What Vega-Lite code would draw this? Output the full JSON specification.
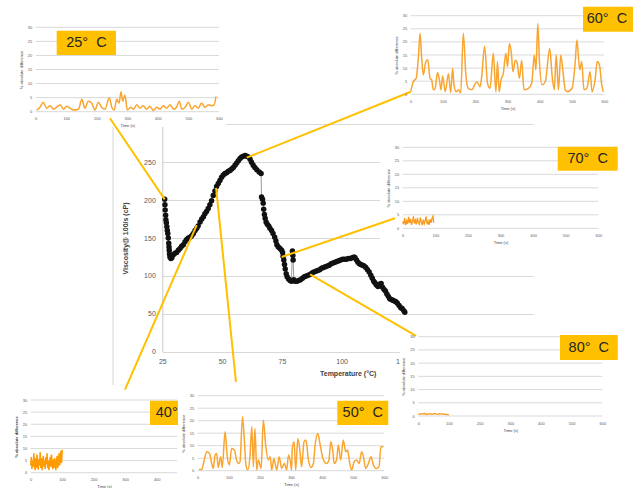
{
  "$schema": "https://vega.github.io/schema/vega-lite/v6.json",
  "width": 633,
  "height": 488,
  "autosize": "none",
  "padding": 0,
  "background": "white",
  "config": {"view": {"stroke": null}, "font": "Liberation Sans"},
  "datasets": {
    "one": [{}],
    "grid": [{"g":0},{"g":5},{"g":10},{"g":15},{"g":20},{"g":25},{"g":30}],
    "main": [
      {"T":26.0,"V":201},{"T":26.1,"V":194},{"T":26.2,"V":187},{"T":26.4,"V":180},{"T":26.5,"V":174},{"T":26.7,"V":170},{"T":26.9,"V":165},{"T":27.1,"V":160},{"T":27.3,"V":156},{"T":27.5,"V":150},{"T":27.7,"V":143},{"T":27.8,"V":138},{"T":27.9,"V":134},{"T":28.0,"V":129},{"T":28.2,"V":125},{"T":28.6,"V":123},{"T":29.0,"V":124},{"T":29.6,"V":128},{"T":30.3,"V":130},{"T":31.0,"V":131},{"T":31.7,"V":134},{"T":32.4,"V":136},{"T":33.1,"V":139},{"T":33.8,"V":141},{"T":34.5,"V":145},{"T":35.2,"V":148},{"T":35.9,"V":150},{"T":36.6,"V":151},{"T":37.3,"V":153},{"T":38.0,"V":156},{"T":38.7,"V":160},{"T":39.4,"V":163},{"T":40.0,"V":166},{"T":40.8,"V":171},{"T":41.5,"V":175},{"T":42.2,"V":178},{"T":42.8,"V":182},{"T":43.5,"V":185},{"T":44.2,"V":189},{"T":44.9,"V":194},{"T":45.6,"V":199},{"T":46.3,"V":206},{"T":47.0,"V":212},{"T":47.7,"V":218},{"T":48.4,"V":222},{"T":49.1,"V":226},{"T":49.8,"V":230},{"T":50.5,"V":233},{"T":51.2,"V":235},{"T":51.9,"V":236},{"T":52.6,"V":238},{"T":53.3,"V":239},{"T":54.0,"V":241},{"T":54.7,"V":243},{"T":55.4,"V":246},{"T":56.1,"V":249},{"T":56.8,"V":252},{"T":57.5,"V":255},{"T":58.2,"V":257},{"T":58.9,"V":258},{"T":59.6,"V":259},{"T":60.3,"V":258},{"T":61.0,"V":257},{"T":61.7,"V":254},{"T":62.3,"V":250},{"T":63.0,"V":246},{"T":63.7,"V":243},{"T":64.5,"V":240},{"T":65.5,"V":237},{"T":66.3,"V":235},{"T":66.5,"V":204},{"T":66.9,"V":201},{"T":67.2,"V":196},{"T":67.4,"V":188},{"T":67.7,"V":181},{"T":68.0,"V":176},{"T":68.4,"V":171},{"T":68.9,"V":168},{"T":69.5,"V":166},{"T":70.0,"V":163},{"T":70.7,"V":160},{"T":71.3,"V":156},{"T":72.0,"V":151},{"T":72.5,"V":146},{"T":72.9,"V":141},{"T":73.5,"V":138},{"T":74.2,"V":136},{"T":74.9,"V":134},{"T":75.3,"V":131},{"T":75.5,"V":126},{"T":75.8,"V":121},{"T":76.1,"V":115},{"T":76.4,"V":109},{"T":76.8,"V":103},{"T":77.2,"V":99},{"T":77.8,"V":96},{"T":78.4,"V":94},{"T":79.0,"V":93},{"T":79.4,"V":133},{"T":79.6,"V":127},{"T":79.7,"V":121},{"T":80.0,"V":95},{"T":80.5,"V":93},{"T":81.3,"V":93},{"T":82.0,"V":94},{"T":82.8,"V":95},{"T":83.6,"V":97},{"T":84.4,"V":99},{"T":85.2,"V":100},{"T":86.0,"V":101},{"T":86.8,"V":102},{"T":87.6,"V":104},{"T":88.4,"V":105},{"T":89.2,"V":106},{"T":90.0,"V":107},{"T":90.8,"V":108},{"T":91.6,"V":110},{"T":92.4,"V":111},{"T":93.2,"V":112},{"T":94.0,"V":113},{"T":94.8,"V":114},{"T":95.6,"V":116},{"T":96.4,"V":117},{"T":97.2,"V":118},{"T":98.0,"V":119},{"T":98.8,"V":120},{"T":99.6,"V":121},{"T":100.4,"V":122},{"T":101.2,"V":122},{"T":102.0,"V":122},{"T":102.8,"V":123},{"T":103.6,"V":123},{"T":104.4,"V":124},{"T":105.2,"V":125},{"T":105.6,"V":124},{"T":106.2,"V":121},{"T":106.8,"V":118},{"T":107.4,"V":116},{"T":108.0,"V":115},{"T":108.7,"V":114},{"T":109.4,"V":113},{"T":110.1,"V":111},{"T":110.8,"V":108},{"T":111.5,"V":105},{"T":112.2,"V":101},{"T":112.8,"V":97},{"T":113.4,"V":93},{"T":113.9,"V":91},{"T":114.5,"V":88},{"T":115.2,"V":86},{"T":115.8,"V":89},{"T":116.5,"V":90},{"T":117.1,"V":85},{"T":117.7,"V":82},{"T":118.3,"V":80},{"T":118.9,"V":76},{"T":119.5,"V":73},{"T":120.1,"V":70},{"T":120.7,"V":69},{"T":121.4,"V":68},{"T":122.0,"V":67},{"T":122.7,"V":66},{"T":123.3,"V":64},{"T":124.0,"V":61},{"T":124.7,"V":58},{"T":125.3,"V":57},{"T":126.0,"V":54},{"T":126.4,"V":52}
    ],
    "links": [
      {"inset":"25","T":26.0,"V":201,"T2":3.1,"V2":308},
      {"inset":"60","T":60.3,"V":256,"T2":128.9,"V2":343},
      {"inset":"70","T":74.9,"V":125,"T2":122.3,"V2":176},
      {"inset":"80","T":86.8,"V":102,"T2":131.1,"V2":21},
      {"inset":"40","T":39.4,"V":167,"T2":9.4,"V2":-50},
      {"inset":"50","T":47.5,"V":216,"T2":55.8,"V2":-40}
    ],
    "d25": [
      {"t":3,"v":0.6},{"t":14,"v":1.6},{"t":25,"v":3.4},{"t":36,"v":1.25},{"t":47,"v":2.1},{"t":58,"v":0.9},{"t":69,"v":1.6},{"t":80,"v":2.5},{"t":91,"v":0.9},{"t":101,"v":1.9},{"t":112,"v":1.25},{"t":123,"v":0.6},{"t":140,"v":0.9},{"t":151,"v":4.4},{"t":161,"v":1.25},{"t":172,"v":3.75},{"t":183,"v":3.1},{"t":194,"v":0.6},{"t":205,"v":3.4},{"t":216,"v":1.6},{"t":227,"v":0.9},{"t":241,"v":5},{"t":249,"v":1.6},{"t":257,"v":0.6},{"t":265,"v":4.4},{"t":273,"v":3.1},{"t":279,"v":7.1},{"t":285,"v":3.75},{"t":292,"v":5.9},{"t":300,"v":0.6},{"t":311,"v":1.6},{"t":320,"v":0.9},{"t":331,"v":2.5},{"t":341,"v":1.25},{"t":352,"v":2.1},{"t":363,"v":0.9},{"t":374,"v":1.9},{"t":385,"v":0.4},{"t":396,"v":1.6},{"t":407,"v":0.9},{"t":418,"v":2.1},{"t":429,"v":1.25},{"t":440,"v":2.5},{"t":451,"v":0.9},{"t":461,"v":1.6},{"t":470,"v":3.75},{"t":478,"v":0.9},{"t":489,"v":1.6},{"t":500,"v":3.4},{"t":511,"v":0.9},{"t":521,"v":2.1},{"t":532,"v":1.25},{"t":543,"v":3.1},{"t":554,"v":1.6},{"t":565,"v":2.5},{"t":576,"v":2.1},{"t":584,"v":2.4},{"t":590,"v":5.4}
    ],
    "d60": [
      {"t":0,"v":1},{"t":8,"v":4.8},{"t":17,"v":6.1},{"t":24,"v":14.4},{"t":29,"v":23.3},{"t":34,"v":14},{"t":39,"v":7.4},{"t":47,"v":12.5},{"t":53,"v":13.2},{"t":60,"v":6.1},{"t":65,"v":5.5},{"t":70,"v":1.7},{"t":76,"v":2.3},{"t":83,"v":8.3},{"t":89,"v":5.5},{"t":94,"v":1.7},{"t":99,"v":7},{"t":107,"v":1},{"t":117,"v":7.8},{"t":124,"v":0.6},{"t":130,"v":9.9},{"t":134,"v":3.6},{"t":141,"v":1},{"t":148,"v":1.7},{"t":155,"v":0.6},{"t":163,"v":23.3},{"t":171,"v":7.4},{"t":178,"v":2.3},{"t":189,"v":1.7},{"t":205,"v":4.8},{"t":215,"v":2.9},{"t":220,"v":6.7},{"t":229,"v":18.3},{"t":238,"v":4.2},{"t":246,"v":2.3},{"t":256,"v":15.7},{"t":264,"v":1},{"t":269,"v":12.5},{"t":274,"v":1},{"t":280,"v":5.5},{"t":287,"v":8},{"t":295,"v":15.7},{"t":300,"v":10.5},{"t":306,"v":19.4},{"t":312,"v":15.6},{"t":317,"v":8.6},{"t":324,"v":13},{"t":329,"v":12.5},{"t":337,"v":6.1},{"t":344,"v":13},{"t":351,"v":1.7},{"t":365,"v":2.3},{"t":375,"v":4.2},{"t":383,"v":15},{"t":388,"v":9.3},{"t":394,"v":27},{"t":399,"v":12.5},{"t":407,"v":3.6},{"t":417,"v":4.8},{"t":431,"v":17.5},{"t":438,"v":7.4},{"t":445,"v":1.7},{"t":451,"v":15},{"t":458,"v":1.7},{"t":465,"v":15},{"t":472,"v":8.6},{"t":479,"v":1.7},{"t":486,"v":1},{"t":500,"v":2.3},{"t":510,"v":12.5},{"t":515,"v":20.7},{"t":524,"v":9.3},{"t":530,"v":12.5},{"t":537,"v":1.7},{"t":546,"v":2.3},{"t":556,"v":8.6},{"t":562,"v":1},{"t":572,"v":6.1},{"t":578,"v":12.5},{"t":585,"v":11.2},{"t":592,"v":3.6},{"t":597,"v":1}
    ],
    "d70": [
      {"t":0,"v":2.5},{"t":3,"v":1.5},{"t":6,"v":3.8},{"t":9,"v":1.2},{"t":12,"v":2.8},{"t":15,"v":1.6},{"t":18,"v":4.2},{"t":21,"v":2.0},{"t":24,"v":3.5},{"t":27,"v":1.3},{"t":30,"v":2.6},{"t":33,"v":4.4},{"t":36,"v":1.8},{"t":39,"v":3.0},{"t":42,"v":1.4},{"t":45,"v":3.9},{"t":48,"v":2.2},{"t":51,"v":1.5},{"t":54,"v":4.0},{"t":57,"v":2.4},{"t":60,"v":1.2},{"t":63,"v":3.2},{"t":66,"v":1.7},{"t":69,"v":2.9},{"t":72,"v":4.3},{"t":75,"v":1.5},{"t":78,"v":2.6},{"t":81,"v":1.3},{"t":84,"v":3.4},{"t":87,"v":2.0},{"t":90,"v":3.7},{"t":93,"v":4.5},{"t":95,"v":2.0}
    ],
    "d80": [
      {"t":0,"v":0.8},{"t":5,"v":0.6},{"t":10,"v":0.9},{"t":15,"v":0.7},{"t":20,"v":1.0},{"t":25,"v":0.6},{"t":30,"v":0.8},{"t":35,"v":0.7},{"t":40,"v":0.9},{"t":45,"v":0.6},{"t":50,"v":0.8},{"t":55,"v":1.0},{"t":60,"v":0.7},{"t":65,"v":0.6},{"t":70,"v":0.9},{"t":75,"v":0.7},{"t":80,"v":0.8},{"t":85,"v":0.6},{"t":90,"v":0.7},{"t":95,"v":0.5},{"t":100,"v":0.4}
    ],
    "d40": [
      {"t":0,"v":3},{"t":2,"v":6.5},{"t":4,"v":1.5},{"t":6,"v":5},{"t":8,"v":2.5},{"t":10,"v":8},{"t":12,"v":3},{"t":14,"v":1},{"t":16,"v":6},{"t":18,"v":2},{"t":20,"v":7.5},{"t":22,"v":4},{"t":24,"v":1.2},{"t":26,"v":5.5},{"t":28,"v":3},{"t":30,"v":8.5},{"t":32,"v":2},{"t":34,"v":6},{"t":36,"v":1},{"t":38,"v":4.5},{"t":40,"v":7},{"t":42,"v":2.5},{"t":44,"v":5},{"t":46,"v":1.5},{"t":48,"v":6.5},{"t":50,"v":3.5},{"t":52,"v":8},{"t":54,"v":2},{"t":56,"v":5},{"t":58,"v":1},{"t":60,"v":4},{"t":62,"v":6.5},{"t":64,"v":2.5},{"t":66,"v":7.5},{"t":68,"v":3},{"t":70,"v":1.5},{"t":72,"v":5.5},{"t":74,"v":2},{"t":76,"v":6},{"t":78,"v":3.5},{"t":80,"v":1},{"t":82,"v":5},{"t":84,"v":7},{"t":86,"v":2},{"t":88,"v":4.5},{"t":90,"v":8},{"t":92,"v":3},{"t":94,"v":6},{"t":96,"v":9},{"t":98,"v":4},{"t":100,"v":9.5}
    ],
    "d50": [
      {"t":4,"v":0.5},{"t":13,"v":0.5},{"t":21,"v":4.3},{"t":29,"v":7.6},{"t":38,"v":6.9},{"t":45,"v":2.9},{"t":50,"v":0.9},{"t":56,"v":6.3},{"t":61,"v":6.9},{"t":66,"v":1.3},{"t":74,"v":5.6},{"t":79,"v":1.3},{"t":88,"v":15.6},{"t":95,"v":5.6},{"t":102,"v":2.3},{"t":109,"v":8.9},{"t":118,"v":8.3},{"t":125,"v":4.3},{"t":131,"v":2.9},{"t":136,"v":3.6},{"t":144,"v":21.6},{"t":150,"v":12.3},{"t":155,"v":2.3},{"t":161,"v":0.3},{"t":168,"v":5.6},{"t":174,"v":17.6},{"t":179,"v":1.6},{"t":184,"v":16.9},{"t":190,"v":0.3},{"t":195,"v":4.3},{"t":204,"v":0.9},{"t":211,"v":20.3},{"t":219,"v":9.6},{"t":227,"v":4.3},{"t":233,"v":5.6},{"t":238,"v":0.3},{"t":245,"v":4.9},{"t":254,"v":0.3},{"t":262,"v":5.6},{"t":270,"v":0.9},{"t":279,"v":2.9},{"t":286,"v":0.3},{"t":292,"v":6.3},{"t":297,"v":4.3},{"t":302,"v":0.3},{"t":304,"v":8.9},{"t":310,"v":11.6},{"t":315,"v":0.3},{"t":322,"v":12.9},{"t":329,"v":7.6},{"t":334,"v":1.6},{"t":342,"v":11.6},{"t":348,"v":12.3},{"t":356,"v":4.3},{"t":364,"v":1.3},{"t":372,"v":2.9},{"t":377,"v":9.6},{"t":386,"v":14.9},{"t":393,"v":10.9},{"t":401,"v":5.6},{"t":407,"v":3.6},{"t":415,"v":2.9},{"t":422,"v":4.3},{"t":428,"v":11.6},{"t":434,"v":8.3},{"t":439,"v":2.9},{"t":447,"v":4.5},{"t":452,"v":10.3},{"t":460,"v":4.3},{"t":468,"v":12.3},{"t":476,"v":7.6},{"t":482,"v":8.3},{"t":488,"v":3.6},{"t":495,"v":0.3},{"t":503,"v":3.6},{"t":511,"v":4.3},{"t":519,"v":2.9},{"t":527,"v":7.6},{"t":533,"v":5.6},{"t":540,"v":0.9},{"t":549,"v":2.9},{"t":557,"v":5.6},{"t":565,"v":2.3},{"t":573,"v":0.9},{"t":583,"v":1.6},{"t":589,"v":9.6},{"t":597,"v":9.6}
    ]
  },
  "resolve": {"scale": {"x": "independent", "y": "independent"}, "axis": {"x": "independent", "y": "independent"}},
  "layer": [
    {
      "layer": [
        {
          "data": {"name": "main"},
          "mark": {"type": "line", "color": "#9a9a9a", "strokeWidth": 1},
          "encoding": {
            "x": {"field": "T", "type": "quantitative", "scale": {"domain": [25, 180], "range": [162.3, 533], "nice": false, "zero": false},
              "axis": {"orient": "bottom", "offset": -136.3, "values": [25, 50, 75, 100, 125, 150, 175], "title": "Temperature (°C)", "grid": false, "ticks": false, "domain": false, "labelFlush": false, "labelFontSize": 7, "labelColor": "#595959", "labelPadding": 6, "titleFontSize": 7, "titleFontWeight": "bold", "titleColor": "#404040", "titlePadding": 5}},
            "y": {"field": "V", "type": "quantitative", "scale": {"domain": [0, 300], "range": [351.7, 124.3], "nice": false, "zero": false},
              "axis": {"orient": "left", "offset": -162.3, "values": [0, 50, 100, 150, 200, 250, 300], "title": "Viscosity@ 100/s (cP)", "grid": true, "gridColor": "#d9d9d9", "ticks": false, "domain": true, "domainColor": "#c8c8c8", "labelFlush": false, "labelFontSize": 7, "labelColor": "#595959", "labelPadding": 7, "titleFontSize": 7, "titleFontWeight": "bold", "titleColor": "#404040", "titlePadding": 15}},
            "order": {"value": null}
          }
        },
        {
          "data": {"name": "main"},
          "mark": {"type": "point", "filled": true, "color": "#111111", "size": 30, "opacity": 1},
          "encoding": {
            "x": {"field": "T", "type": "quantitative"},
            "y": {"field": "V", "type": "quantitative"}
          }
        },
        {
          "data": {"name": "one"},
          "mark": {"type": "rule", "color": "#d4d4d4", "strokeWidth": 1},
          "encoding": {
            "x": {"datum": 4.4, "type": "quantitative"},
            "y": {"datum": 306, "type": "quantitative"},
            "y2": {"datum": -44}
          }
        }
      ]
    },
    {
      "layer": [
        {"data": {"name": "one"}, "mark": {"type": "rect", "color": "white"},
          "encoding": {
            "x": {"datum": -117, "type": "quantitative", "scale": {"domain": [0, 600], "range": [35.7, 219], "nice": false, "zero": false},
              "axis": {"orient": "bottom", "offset": -376.3, "values": [0, 100, 200, 300, 400, 500, 600], "title": "Time (s)", "grid": false, "ticks": false, "domain": false, "labelFlush": false, "labelFontSize": 4, "labelColor": "#595959", "labelPadding": 5, "titleFontSize": 4, "titleFontWeight": "normal", "titleColor": "#404040", "titlePadding": 3, "zindex": 1}},
            "x2": {"datum": 623},
            "y": {"datum": 39.7, "type": "quantitative", "scale": {"domain": [0, 30], "range": [111.7, 27.3], "nice": false, "zero": false},
              "axis": {"orient": "left", "offset": -35.7, "values": [0, 5, 10, 15, 20, 25, 30], "title": "% absolute difference", "grid": false, "ticks": false, "domain": false, "labelFlush": false, "labelFontSize": 4, "labelColor": "#595959", "labelPadding": 4, "titleFontSize": 4, "titleFontWeight": "normal", "titleColor": "#404040", "titlePadding": 4, "zindex": 1}},
            "y2": {"datum": -5.4}}},
        {"data": {"name": "grid"}, "mark": {"type": "rule", "color": "#d9d9d9", "strokeWidth": 1},
          "encoding": {"x": {"datum": 0, "type": "quantitative"}, "x2": {"datum": 600}, "y": {"field": "g", "type": "quantitative"}}},
        {"data": {"name": "d25"}, "mark": {"type": "line", "color": "#F9A530", "strokeWidth": 1.5, "interpolate": "monotone"},
          "encoding": {"x": {"field": "t", "type": "quantitative"}, "y": {"field": "v", "type": "quantitative"}}},
        {"data": {"name": "one"}, "mark": {"type": "rect", "color": "#FFC000"},
          "encoding": {"x": {"datum": 68.7, "type": "quantitative"}, "x2": {"datum": 262.8}, "y": {"datum": 28.8, "type": "quantitative"}, "y2": {"datum": 20.15}}},
        {"data": {"name": "one"}, "mark": {"type": "text", "fontSize": 14.5, "color": "#262626", "align": "center", "baseline": "middle"},
          "encoding": {"x": {"datum": 165.9, "type": "quantitative"}, "y": {"datum": 24.45, "type": "quantitative"}, "text": {"value": "25° \u00a0C"}}}
      ]
    },
    {
      "layer": [
        {"data": {"name": "one"}, "mark": {"type": "rect", "color": "white"},
          "encoding": {
            "x": {"datum": -58, "type": "quantitative", "scale": {"domain": [0, 600], "range": [410.7, 604.3], "nice": false, "zero": false},
              "axis": {"orient": "bottom", "offset": -393.7, "values": [0, 100, 200, 300, 400, 500, 600], "title": "Time (s)", "grid": false, "ticks": false, "domain": false, "labelFlush": false, "labelFontSize": 4, "labelColor": "#595959", "labelPadding": 5, "titleFontSize": 4, "titleFontWeight": "normal", "titleColor": "#404040", "titlePadding": 3, "zindex": 1}},
            "x2": {"datum": 689},
            "y": {"datum": 36, "type": "quantitative", "scale": {"domain": [0, 30], "range": [94.3, 15.7], "nice": false, "zero": false},
              "axis": {"orient": "left", "offset": -410.7, "values": [0, 5, 10, 15, 20, 25, 30], "title": "% absolute difference", "grid": false, "ticks": false, "domain": false, "labelFlush": false, "labelFontSize": 4, "labelColor": "#595959", "labelPadding": 4, "titleFontSize": 4, "titleFontWeight": "normal", "titleColor": "#404040", "titlePadding": 4, "zindex": 1}},
            "y2": {"datum": -6.76}}},
        {"data": {"name": "grid"}, "mark": {"type": "rule", "color": "#d9d9d9", "strokeWidth": 1},
          "encoding": {"x": {"datum": 0, "type": "quantitative"}, "x2": {"datum": 600}, "y": {"field": "g", "type": "quantitative"}}},
        {"data": {"name": "d60"}, "mark": {"type": "line", "color": "#F9A530", "strokeWidth": 1.5, "interpolate": "monotone"},
          "encoding": {"x": {"field": "t", "type": "quantitative"}, "y": {"field": "v", "type": "quantitative"}}},
        {"data": {"name": "one"}, "mark": {"type": "rect", "color": "#FFC000"},
          "encoding": {"x": {"datum": 534, "type": "quantitative"}, "x2": {"datum": 712}, "y": {"datum": 33.4, "type": "quantitative"}, "y2": {"datum": 23.9}}},
        {"data": {"name": "one"}, "mark": {"type": "text", "fontSize": 14.5, "color": "#262626", "align": "center", "baseline": "middle"},
          "encoding": {"x": {"datum": 608, "type": "quantitative"}, "y": {"datum": 28.6, "type": "quantitative"}, "text": {"value": "60° \u00a0C"}}}
      ]
    },
    {
      "layer": [
        {"data": {"name": "one"}, "mark": {"type": "rect", "color": "white"},
          "encoding": {
            "x": {"datum": -69.6, "type": "quantitative", "scale": {"domain": [0, 600], "range": [402.7, 598.3], "nice": false, "zero": false},
              "axis": {"orient": "bottom", "offset": -259.7, "values": [0, 100, 200, 300, 400, 500, 600], "title": "Time (s)", "grid": false, "ticks": false, "domain": false, "labelFlush": false, "labelFontSize": 4, "labelColor": "#595959", "labelPadding": 5, "titleFontSize": 4, "titleFontWeight": "normal", "titleColor": "#404040", "titlePadding": 3, "zindex": 1}},
            "x2": {"datum": 706.7},
            "y": {"datum": 34.56, "type": "quantitative", "scale": {"domain": [0, 30], "range": [228.3, 147.3], "nice": false, "zero": false},
              "axis": {"orient": "left", "offset": -402.7, "values": [0, 5, 10, 15, 20, 25, 30], "title": "% absolute difference", "grid": false, "ticks": false, "domain": false, "labelFlush": false, "labelFontSize": 4, "labelColor": "#595959", "labelPadding": 4, "titleFontSize": 4, "titleFontWeight": "normal", "titleColor": "#404040", "titlePadding": 4, "zindex": 1}},
            "y2": {"datum": -8.78}}},
        {"data": {"name": "grid"}, "mark": {"type": "rule", "color": "#d9d9d9", "strokeWidth": 1},
          "encoding": {"x": {"datum": 0, "type": "quantitative"}, "x2": {"datum": 600}, "y": {"field": "g", "type": "quantitative"}}},
        {"data": {"name": "d70"}, "mark": {"type": "line", "color": "#F99A1C", "strokeWidth": 1.3},
          "encoding": {"x": {"field": "t", "type": "quantitative"}, "y": {"field": "v", "type": "quantitative"}}},
        {"data": {"name": "one"}, "mark": {"type": "rect", "color": "#FFC000"},
          "encoding": {"x": {"datum": 475.5, "type": "quantitative"}, "x2": {"datum": 659.5}, "y": {"datum": 30.22, "type": "quantitative"}, "y2": {"datum": 21.33}}},
        {"data": {"name": "one"}, "mark": {"type": "text", "fontSize": 14.5, "color": "#262626", "align": "center", "baseline": "middle"},
          "encoding": {"x": {"datum": 567.5, "type": "quantitative"}, "y": {"datum": 25.78, "type": "quantitative"}, "text": {"value": "70° \u00a0C"}}}
      ]
    },
    {
      "layer": [
        {"data": {"name": "one"}, "mark": {"type": "rect", "color": "white"},
          "encoding": {
            "x": {"datum": -59.7, "type": "quantitative", "scale": {"domain": [0, 600], "range": [418.3, 602.3], "nice": false, "zero": false},
              "axis": {"orient": "bottom", "offset": -72, "values": [0, 100, 200, 300, 400, 500, 600], "title": "Time (s)", "grid": false, "ticks": false, "domain": false, "labelFlush": false, "labelFontSize": 4, "labelColor": "#595959", "labelPadding": 5, "titleFontSize": 4, "titleFontWeight": "normal", "titleColor": "#404040", "titlePadding": 3, "zindex": 1}},
            "x2": {"datum": 700},
            "y": {"datum": 35.56, "type": "quantitative", "scale": {"domain": [0, 30], "range": [416, 336.7], "nice": false, "zero": false},
              "axis": {"orient": "left", "offset": -418.3, "values": [0, 5, 10, 15, 20, 25, 30], "title": "% absolute difference", "grid": false, "ticks": false, "domain": false, "labelFlush": false, "labelFontSize": 4, "labelColor": "#595959", "labelPadding": 4, "titleFontSize": 4, "titleFontWeight": "normal", "titleColor": "#404040", "titlePadding": 4, "zindex": 1}},
            "y2": {"datum": -27.24}}},
        {"data": {"name": "grid"}, "mark": {"type": "rule", "color": "#d9d9d9", "strokeWidth": 1},
          "encoding": {"x": {"datum": 0, "type": "quantitative"}, "x2": {"datum": 600}, "y": {"field": "g", "type": "quantitative"}}},
        {"data": {"name": "d80"}, "mark": {"type": "line", "color": "#F99A1C", "strokeWidth": 1.3},
          "encoding": {"x": {"field": "t", "type": "quantitative"}, "y": {"field": "v", "type": "quantitative"}}},
        {"data": {"name": "one"}, "mark": {"type": "rect", "color": "#FFC000"},
          "encoding": {"x": {"datum": 462, "type": "quantitative"}, "x2": {"datum": 650.2}, "y": {"datum": 30.64, "type": "quantitative"}, "y2": {"datum": 21.19}}},
        {"data": {"name": "one"}, "mark": {"type": "text", "fontSize": 14.5, "color": "#262626", "align": "center", "baseline": "middle"},
          "encoding": {"x": {"datum": 556, "type": "quantitative"}, "y": {"datum": 25.9, "type": "quantitative"}, "text": {"value": "80° \u00a0C"}}}
      ]
    },
    {
      "layer": [
        {"data": {"name": "one"}, "mark": {"type": "rect", "color": "white"},
          "encoding": {
            "x": {"datum": -97.4, "type": "quantitative", "scale": {"domain": [0, 465], "range": [30.7, 177.2], "nice": false, "zero": false},
              "axis": {"orient": "bottom", "offset": -15.3, "values": [0, 100, 200, 300, 400], "title": "Time (s)", "grid": false, "ticks": false, "domain": false, "labelFlush": false, "labelFontSize": 4, "labelColor": "#595959", "labelPadding": 5, "titleFontSize": 4, "titleFontWeight": "normal", "titleColor": "#404040", "titlePadding": 3, "zindex": 1}},
            "x2": {"datum": 467.5},
            "y": {"datum": 34.95, "type": "quantitative", "scale": {"domain": [0, 30], "range": [472.7, 400], "nice": false, "zero": false},
              "axis": {"orient": "left", "offset": -30.7, "values": [0, 5, 10, 15, 20, 25, 30], "title": "% absolute difference", "grid": false, "ticks": false, "domain": false, "labelFlush": false, "labelFontSize": 4, "labelColor": "#595959", "labelPadding": 4, "titleFontSize": 4, "titleFontWeight": "bold", "titleColor": "#404040", "titlePadding": 4, "zindex": 1}},
            "y2": {"datum": -6.31}}},
        {"data": {"name": "grid"}, "mark": {"type": "rule", "color": "#d9d9d9", "strokeWidth": 1},
          "encoding": {"x": {"datum": 0, "type": "quantitative"}, "x2": {"datum": 465}, "y": {"field": "g", "type": "quantitative"}}},
        {"data": {"name": "d40"}, "mark": {"type": "line", "color": "#FF9A00", "strokeWidth": 1.5},
          "encoding": {"x": {"field": "t", "type": "quantitative"}, "y": {"field": "v", "type": "quantitative"}}},
        {"data": {"name": "one"}, "mark": {"type": "rect", "color": "#FFC000"},
          "encoding": {"x": {"datum": 378.7, "type": "quantitative"}, "x2": {"datum": 540.5}, "y": {"datum": 29.71, "type": "quantitative"}, "y2": {"datum": 19.68}}},
        {"data": {"name": "one"}, "mark": {"type": "text", "fontSize": 14.5, "color": "#262626", "align": "left", "baseline": "middle"},
          "encoding": {"x": {"datum": 397, "type": "quantitative"}, "y": {"datum": 24.7, "type": "quantitative"}, "text": {"value": "40°"}}}
      ]
    },
    {
      "layer": [
        {"data": {"name": "one"}, "mark": {"type": "rect", "color": "white"},
          "encoding": {
            "x": {"datum": -63.3, "type": "quantitative", "scale": {"domain": [0, 600], "range": [197.7, 384.3], "nice": false, "zero": false},
              "axis": {"orient": "bottom", "offset": -17.3, "values": [0, 100, 200, 300, 400, 500, 600], "title": "Time (s)", "grid": false, "ticks": false, "domain": false, "labelFlush": false, "labelFontSize": 4, "labelColor": "#595959", "labelPadding": 5, "titleFontSize": 4, "titleFontWeight": "normal", "titleColor": "#404040", "titlePadding": 3, "zindex": 1}},
            "x2": {"datum": 650.5},
            "y": {"datum": 34.28, "type": "quantitative", "scale": {"domain": [0, 30], "range": [470.7, 395.7], "nice": false, "zero": false},
              "axis": {"orient": "left", "offset": -197.7, "values": [0, 5, 10, 15, 20, 25, 30], "title": "% absolute difference", "grid": false, "ticks": false, "domain": false, "labelFlush": false, "labelFontSize": 4, "labelColor": "#595959", "labelPadding": 4, "titleFontSize": 4, "titleFontWeight": "normal", "titleColor": "#404040", "titlePadding": 4, "zindex": 1}},
            "y2": {"datum": -6.92}}},
        {"data": {"name": "grid"}, "mark": {"type": "rule", "color": "#d9d9d9", "strokeWidth": 1},
          "encoding": {"x": {"datum": 0, "type": "quantitative"}, "x2": {"datum": 600}, "y": {"field": "g", "type": "quantitative"}}},
        {"data": {"name": "d50"}, "mark": {"type": "line", "color": "#F9A530", "strokeWidth": 1.5, "interpolate": "monotone"},
          "encoding": {"x": {"field": "t", "type": "quantitative"}, "y": {"field": "v", "type": "quantitative"}}},
        {"data": {"name": "one"}, "mark": {"type": "rect", "color": "#FFC000"},
          "encoding": {"x": {"datum": 448.9, "type": "quantitative"}, "x2": {"datum": 612.9}, "y": {"datum": 28, "type": "quantitative"}, "y2": {"datum": 18.28}}},
        {"data": {"name": "one"}, "mark": {"type": "text", "fontSize": 14.5, "color": "#262626", "align": "center", "baseline": "middle"},
          "encoding": {"x": {"datum": 530.9, "type": "quantitative"}, "y": {"datum": 23.16, "type": "quantitative"}, "text": {"value": "50° \u00a0C"}}}
      ]
    },
    {
      "data": {"name": "links"},
      "mark": {"type": "rule", "color": "#FFC000", "strokeWidth": 2},
      "encoding": {
        "x": {"field": "T", "type": "quantitative", "scale": {"domain": [25, 180], "range": [162.3, 533], "nice": false, "zero": false}, "axis": null},
        "y": {"field": "V", "type": "quantitative", "scale": {"domain": [0, 300], "range": [351.7, 124.3], "nice": false, "zero": false}, "axis": null},
        "x2": {"field": "T2"},
        "y2": {"field": "V2"}
      }
    }
  ]
}
